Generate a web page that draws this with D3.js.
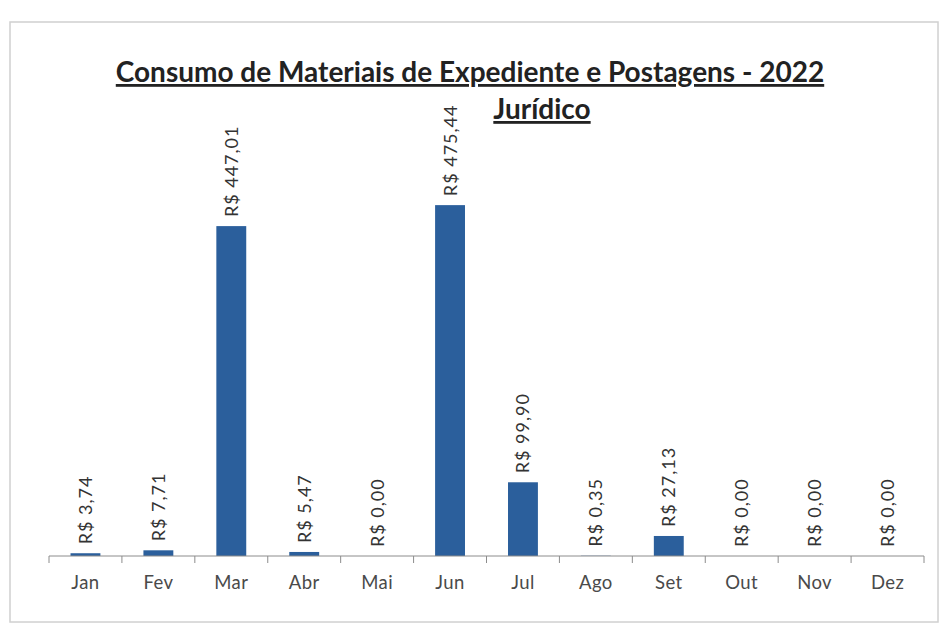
<!DOCTYPE html>
<html><head><meta charset="utf-8">
<script src="https://cdn.jsdelivr.net/npm/d3@7"></script>
<style>body{margin:0;background:#fff}svg{display:block}</style>
</head><body><svg id="c" width="941" height="625"></svg>
<script>
const months = ["Jan","Fev","Mar","Abr","Mai","Jun","Jul","Ago","Set","Out","Nov","Dez"];
const values = [3.74, 7.71, 447.01, 5.47, 0.00, 475.44, 99.90, 0.35, 27.13, 0.00, 0.00, 0.00];
const valueLabels = ["R$ 3,74","R$ 7,71","R$ 447,01","R$ 5,47","R$ 0,00","R$ 475,44","R$ 99,90","R$ 0,35","R$ 27,13","R$ 0,00","R$ 0,00","R$ 0,00"];
const title = "Consumo de Materiais de Expediente e Postagens - 2022";
const subtitle = "Jurídico";

const svg = d3.select("#c");
const font = "Lato, 'Open Sans', sans-serif";

// frame
svg.append("rect").attr("x",10).attr("y",22).attr("width",928).attr("height",600)
  .attr("fill","none").attr("stroke","#d0d0d0").attr("stroke-width",1.5);

const x = d3.scaleBand().domain(months).range([49, 924]).paddingInner(0.59).paddingOuter(0.295);
const y = d3.scaleLinear().domain([0, 500]).range([556, 187]);

const g = svg.append("g");
g.selectAll("rect.bar").data(values).join("rect").attr("class","bar")
  .attr("x",(d,i)=>x(months[i])).attr("width",x.bandwidth())
  .attr("y",d=>y(d)).attr("height",d=>y(0)-y(d)).attr("fill","#2b5f9c");

// axis
const xb = d3.scaleBand().domain(months).range([49,924]);
const ag = svg.append("g").attr("transform","translate(0,556)");
ag.append("line").attr("x1",49).attr("x2",924).attr("stroke","#8c8c8c");
const ticks = months.map(m=>xb(m)).concat([924]);
ag.selectAll("line.t").data(ticks).join("line").attr("class","t")
  .attr("x1",d=>d).attr("x2",d=>d).attr("y1",0).attr("y2",7).attr("stroke","#8c8c8c");
ag.selectAll("text").data(months).join("text")
  .attr("x",d=>xb(d)+xb.bandwidth()/2).attr("y",33)
  .attr("text-anchor","middle").attr("font-family",font).attr("font-size",18.5)
  .attr("letter-spacing",0.4).attr("fill","#4a4a4a").text(d=>d);

// value labels
g.selectAll("text.v").data(values).join("text").attr("class","v")
  .attr("transform",(d,i)=>`translate(${x(months[i])+x.bandwidth()/2+6.5},${y(d)-9}) rotate(-90)`)
  .attr("font-family",font).attr("font-size",18).attr("letter-spacing",1)
  .attr("fill","#333").text((d,i)=>valueLabels[i]);

// titles
svg.append("text").attr("x",470).attr("y",82).attr("text-anchor","middle")
  .attr("font-family",font).attr("font-weight","bold").attr("font-size",28)
  .attr("text-decoration","underline").attr("fill","#222").text(title);
svg.append("text").attr("x",542).attr("y",119).attr("text-anchor","middle")
  .attr("font-family",font).attr("font-weight","bold").attr("font-size",28)
  .attr("text-decoration","underline").attr("fill","#222").text(subtitle);
</script></body></html>
